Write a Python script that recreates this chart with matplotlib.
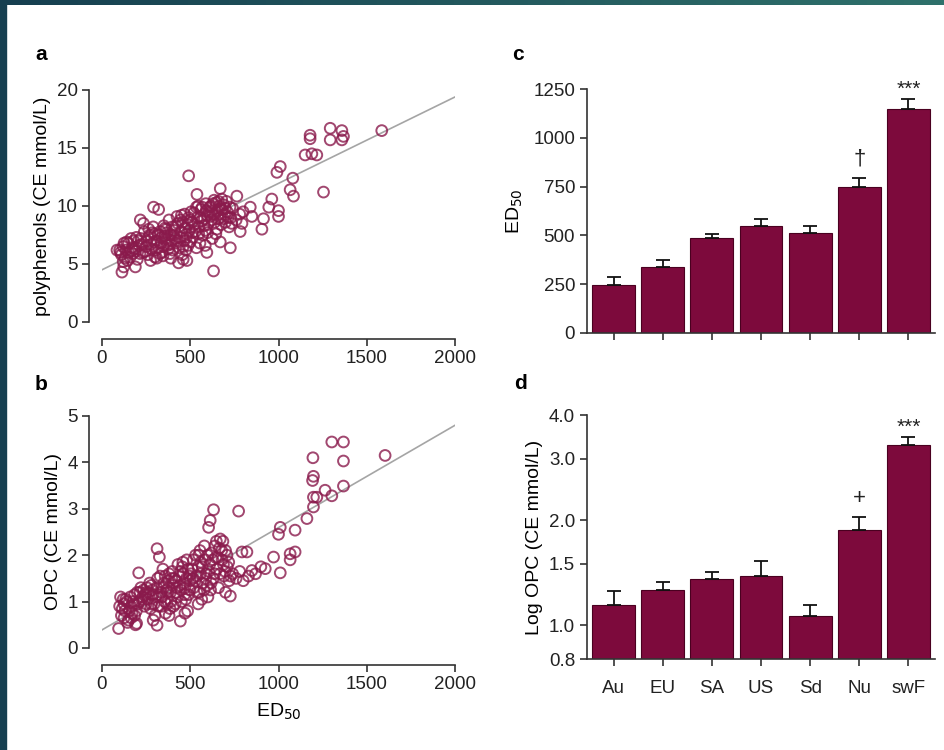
import numpy as np
import matplotlib
matplotlib.use("Agg")
import matplotlib.pyplot as plt
from matplotlib.colors import LinearSegmentedColormap

plt.rcParams["font.family"] = ["Liberation Sans", "DejaVu Sans"]

# Panel a: ED50 vs polyphenols
a_x = [100, 110, 120, 130, 140, 150, 160, 170, 180, 190, 200, 210, 120, 150, 175, 195, 105, 135,
       220, 230, 240, 250, 260, 270, 280, 290, 300, 235, 255, 275, 295, 265, 310, 285,
       310, 320, 330, 340, 350, 360, 370, 380, 390, 400, 345, 365, 385, 395, 335, 355, 375,
       410, 420, 430, 440, 450, 460, 470, 480, 490, 500, 415, 445, 465, 485, 455, 495, 425, 475,
       510, 520, 530, 540, 550, 560, 570, 580, 590, 600, 515, 545, 565, 585, 555, 595,
       610, 620, 630, 640, 650, 660, 670, 680, 690, 700, 710, 720, 740, 615, 635, 655, 675, 695,
       645, 665, 730, 760, 780, 800,
       125, 145, 165, 185, 205, 215, 225, 245, 262, 278, 298, 305, 318, 328, 338, 348, 358, 368,
       378, 388, 398, 405, 418, 428, 438, 448, 458, 468, 478, 488, 498, 505, 512, 525, 535, 548,
       558, 568, 578, 588, 598, 605, 618, 628, 638, 648, 658, 668, 678, 688, 698, 705, 715, 725,
       735, 625, 585, 535, 460, 390,
       85, 113, 123, 189, 217, 292, 321, 491, 538, 434, 481, 594, 632, 670, 764, 727, 670,
       840, 849, 793, 783, 906, 915, 945, 962, 1000, 1000, 991, 1010, 1066, 1085, 1081,
       1151, 1179, 1179, 1189, 1217, 1255, 1293, 1293, 1359, 1359, 1368, 1585]
a_y = [6.2, 5.8, 6.5, 5.5, 6.9, 6.0, 5.6, 6.4, 7.0, 6.1, 5.4, 6.6, 5.2, 6.8, 5.9, 7.3, 6.0, 6.2,
       7.2, 6.0, 7.8, 6.5, 5.8, 7.5, 6.3, 8.2, 5.6, 8.5, 7.0, 5.3, 6.9, 8.0, 5.5, 7.7,
       7.0, 6.4, 7.8, 6.0, 8.3, 7.2, 6.6, 8.8, 7.5, 6.2, 5.7, 8.0, 5.9, 7.0, 6.8, 7.4, 6.3,
       7.9, 6.8, 8.5, 7.3, 9.2, 6.5, 8.1, 7.6, 9.0, 6.9, 7.2, 8.8, 7.0, 8.4, 5.8, 7.9, 9.1, 6.2,
       8.6, 9.4, 7.8, 9.0, 8.2, 9.7, 7.5, 8.9, 9.6, 8.4, 7.3, 10.0, 8.7, 7.9, 6.8, 9.2,
       9.9, 8.8, 10.2, 9.3, 8.0, 10.4, 9.0, 9.7, 10.1, 8.6, 9.5, 8.2, 9.8, 9.1, 10.5, 9.6, 8.4, 9.3,
       7.6, 10.0, 9.0, 8.8, 9.3, 9.5,
       6.8, 5.3, 7.2, 6.3, 7.0, 5.9, 6.7, 6.1, 7.3, 6.7, 7.6, 6.2, 7.5, 5.9, 7.3, 6.5, 8.1, 7.7,
       7.0, 6.7, 8.2, 7.5, 8.3, 7.0, 6.4, 7.8, 8.6, 9.3, 7.3, 6.6, 8.8, 9.5, 7.7, 8.4, 9.9, 7.6,
       9.0, 9.9, 8.3, 10.2, 7.7, 9.5, 10.0, 9.3, 8.6, 10.3, 8.9, 9.8, 10.6, 8.9, 9.8, 10.4, 9.0, 9.9,
       8.5, 7.2, 6.6, 6.4, 5.4, 5.5,
       6.2, 4.3, 4.75, 4.75, 8.8, 9.9, 9.7, 12.6, 11.0, 5.1, 5.3, 6.0, 4.4, 11.5, 10.85, 6.4, 6.9,
       9.9, 9.1, 8.5, 7.8, 8.0, 8.9, 9.9, 10.6, 9.6, 9.1, 12.9, 13.4, 11.4, 10.85, 12.4,
       14.4, 16.1, 15.8, 14.5, 14.4, 11.2, 16.7, 15.7, 16.5, 15.7, 16.0, 16.5]

# Panel b: ED50 vs OPC
b_x = [100, 110, 120, 130, 140, 150, 160, 170, 180, 190, 200, 115, 145, 175, 195, 125, 165, 185,
       210, 220, 230, 240, 250, 260, 270, 280, 290, 300, 225, 255, 285, 245, 275,
       310, 320, 330, 340, 350, 360, 370, 380, 390, 400, 345, 365, 385, 395, 335, 355, 375,
       410, 420, 430, 440, 450, 460, 470, 480, 490, 500, 415, 445, 465, 485, 455, 495, 425, 475,
       510, 520, 530, 540, 550, 560, 570, 580, 590, 600, 515, 545, 565, 585, 555, 595,
       610, 620, 630, 640, 650, 660, 670, 680, 690, 700, 710, 720, 740, 615, 645, 665, 685, 700,
       760, 780, 800, 830, 870, 900,
       105, 125, 135, 155, 165, 185, 205, 215, 235, 250, 265, 280, 295, 305, 315, 325, 338, 348,
       358, 368, 378, 388, 398, 405, 418, 428, 438, 448, 458, 468, 478, 488, 498, 505, 518, 528,
       538, 548, 558, 568, 578, 588, 598, 605, 618, 628, 638, 648, 658, 668, 678, 688, 698, 708,
       718, 728, 545, 470, 380, 290,
       94, 312, 325, 208, 312, 444, 632, 613, 604, 774, 793, 821, 727, 849, 925, 972, 1010,
       1010, 1000, 1066, 1094, 1094, 1066, 1161, 1198, 1198, 1193, 1198, 1195, 1217, 1264,
       1302, 1302, 1368, 1368, 1368, 1604, 196]
b_y = [0.9, 0.7, 1.05, 0.8, 1.0, 0.6, 1.1, 0.75, 0.95, 0.5, 1.2, 0.85, 0.55, 1.0, 0.8, 0.65, 0.9, 1.15,
       1.0, 1.3, 1.1, 0.9, 1.2, 1.05, 1.4, 0.95, 1.15, 0.7, 1.05, 1.3, 1.25, 1.15, 0.85,
       1.3, 0.9, 1.55, 1.1, 1.4, 0.75, 1.2, 1.6, 1.0, 1.35, 1.7, 1.25, 0.85, 1.5, 1.2, 1.0, 1.45,
       1.5, 1.2, 1.8, 1.35, 1.0, 1.6, 1.3, 1.9, 1.15, 1.45, 0.95, 1.65, 1.4, 0.8, 1.75, 1.55, 1.3, 1.05,
       1.7, 1.3, 2.0, 1.55, 1.2, 1.85, 1.4, 2.2, 1.6, 1.1, 1.5, 1.75, 1.05, 1.9, 2.1, 1.35,
       1.8, 2.05, 1.5, 2.2, 1.7, 1.3, 2.35, 1.9, 1.55, 2.1, 1.75, 1.45, 1.6, 1.25, 1.95, 2.15, 2.3, 1.2,
       1.5, 1.65, 1.45, 1.55, 1.6, 1.75,
       1.1, 0.95, 1.05, 0.8, 0.65, 0.7, 0.95, 1.2, 1.25, 0.95, 1.2, 1.35, 0.95, 1.1, 1.5, 1.15, 0.9, 1.3,
       1.55, 0.95, 1.3, 1.2, 1.65, 0.9, 1.45, 1.1, 1.55, 1.25, 1.85, 1.15, 1.5, 1.7, 1.25, 1.6, 1.9, 1.45,
       1.2, 2.0, 1.6, 1.75, 1.25, 1.5, 2.0, 1.65, 1.4, 1.9, 1.6, 2.3, 1.95, 1.6, 2.1, 1.8, 1.65, 2.0,
       1.85, 1.55, 0.95, 0.75, 0.7, 0.6,
       0.42, 2.14, 1.96, 1.62, 0.49, 0.58, 2.98, 2.75, 2.6, 2.95, 2.07, 2.07, 1.12, 1.67, 1.71, 1.96, 1.62,
       2.6, 2.45, 2.03, 2.54, 2.07, 1.9, 2.79, 3.04, 3.25, 3.61, 3.7, 4.1, 3.25, 3.4,
       3.28, 4.44, 4.44, 4.03, 3.49, 4.15, 0.53]

# regression line end points
fit_x = [0, 2000]
fit_a = [4.5, 19.4]
fit_b = [0.39, 4.8]

# Panels c and d
groups = ["Au", "EU", "SA", "US", "Sd", "Nu", "swF"]
ed50 = [245, 340, 485, 548, 514, 746, 1150]
ed50_err = [40, 33, 22, 36, 32, 50, 48]
opc = [1.145, 1.263, 1.356, 1.386, 1.06, 1.869, 3.29]
opc_err = [0.11, 0.07, 0.06, 0.14, 0.08, 0.17, 0.17]
c_marks = {"Nu": "\u2020", "swF": "***"}
d_marks = {"Nu": "+", "swF": "***"}

W, H = 945, 750
fig = plt.figure(figsize=(W / 100, H / 100), dpi=100)

# slide border (top gradient strip + left strip)
top = fig.add_axes([0, 1 - 5 / H, 1, 5 / H])
grad = np.linspace(0, 1, 256).reshape(1, -1)
cmap = LinearSegmentedColormap.from_list("b", ["#163f50", "#2f716b"])
top.imshow(grad, aspect="auto", cmap=cmap, extent=[0, 1, 0, 1])
top.axis("off")
fig.patches.append(plt.Rectangle((0, 0), 6 / W, 1, transform=fig.transFigure,
                                 color="#163f50", zorder=10))

ink = "#333333"
maroon = "#7d0a3c"
circ = "#8a1a4c"
tick_fs = 13.5
lab_fs = 14


def px_axes(l, t, r, b):
    return fig.add_axes([l / W, 1 - b / H, (r - l) / W, (b - t) / H])


def style(ax):
    for s in ["top", "right"]:
        ax.spines[s].set_visible(False)
    for s in ["left", "bottom"]:
        ax.spines[s].set_color(ink)
        ax.spines[s].set_linewidth(1.2)
    ax.tick_params(direction="out", length=5, width=1.2, color=ink,
                   labelsize=tick_fs, labelcolor="#222222")


def scatter_panel(ax, xs, ys, fy, ymax, yticks, ylabel):
    style(ax)
    ax.plot(fit_x, fy, color="#a5a5a5", lw=1.2, zorder=1)
    ax.scatter(xs, ys, s=60, facecolors="none", edgecolors=circ,
               linewidths=1.4, alpha=0.8, zorder=2)
    ax.set_xlim(0, 2000)
    ax.set_ylim(0, ymax)
    ax.set_xticks([0, 500, 1000, 1500, 2000])
    ax.set_yticks(yticks)
    ax.spines["left"].set_position(("outward", 9))
    ax.spines["bottom"].set_position(("outward", 12))
    ax.set_ylabel(ylabel, fontsize=lab_fs, labelpad=4)


ax_a = px_axes(102, 90, 455, 322)
scatter_panel(ax_a, a_x, a_y, fit_a, 20, [0, 5, 10, 15, 20], "polyphenols (CE mmol/L)")

ax_b = px_axes(102, 416, 455, 648)
scatter_panel(ax_b, b_x, b_y, fit_b, 5, [0, 1, 2, 3, 4, 5], "OPC (CE mmol/L)")
ax_b.set_xlabel("ED$_{50}$", fontsize=lab_fs, labelpad=6)

pos = np.arange(len(groups))


def bar_panel(ax, vals, errs, marks):
    style(ax)
    ax.bar(pos, vals, width=0.87, color=maroon, edgecolor="#4a0020", linewidth=0.8, zorder=2)
    ax.errorbar(pos, vals, yerr=[np.zeros(len(vals)), errs], fmt="none", ecolor="#111111",
                elinewidth=1.3, capsize=5, capthick=1.3, zorder=3)
    ax.set_xlim(-0.54, 6.54)
    ax.set_xticks(pos)
    for g, m in marks.items():
        i = groups.index(g)
        fs = 15 if m == "***" else 16
        off = 0 if m == "***" else 6
        ax.annotate(m, (i, vals[i] + errs[i]), xytext=(0, off), textcoords="offset points",
                    ha="center", va="bottom", fontsize=fs, color="#222222",
                    annotation_clip=False)


ax_c = px_axes(587, 89, 935, 333)
bar_panel(ax_c, ed50, ed50_err, c_marks)
ax_c.set_ylim(0, 1250)
ax_c.set_yticks([0, 250, 500, 750, 1000, 1250])
ax_c.set_xticklabels([])
ax_c.set_ylabel("ED$_{50}$", fontsize=lab_fs, labelpad=6)

ax_d = px_axes(587, 415, 935, 659)
ax_d.set_yscale("log")
bar_panel(ax_d, opc, opc_err, d_marks)
ax_d.set_ylim(0.8, 4.0)
dt = [0.8, 1.0, 1.5, 2.0, 3.0, 4.0]
ax_d.set_yticks(dt)
ax_d.set_yticklabels([f"{v:.1f}" for v in dt])
ax_d.yaxis.set_minor_locator(matplotlib.ticker.NullLocator())
ax_d.set_xticklabels(groups, fontsize=tick_fs)
ax_d.tick_params(axis="x", pad=10)
ax_d.set_ylabel("Log OPC (CE mmol/L)", fontsize=lab_fs, labelpad=4)

for lbl, x, y in [("a", 41, 54), ("b", 41, 385), ("c", 518, 54), ("d", 521, 383)]:
    fig.text(x / W, 1 - y / H, lbl, fontsize=15, fontweight="bold", ha="center", va="center")

fig.savefig("out.png", dpi=100, facecolor="white")
